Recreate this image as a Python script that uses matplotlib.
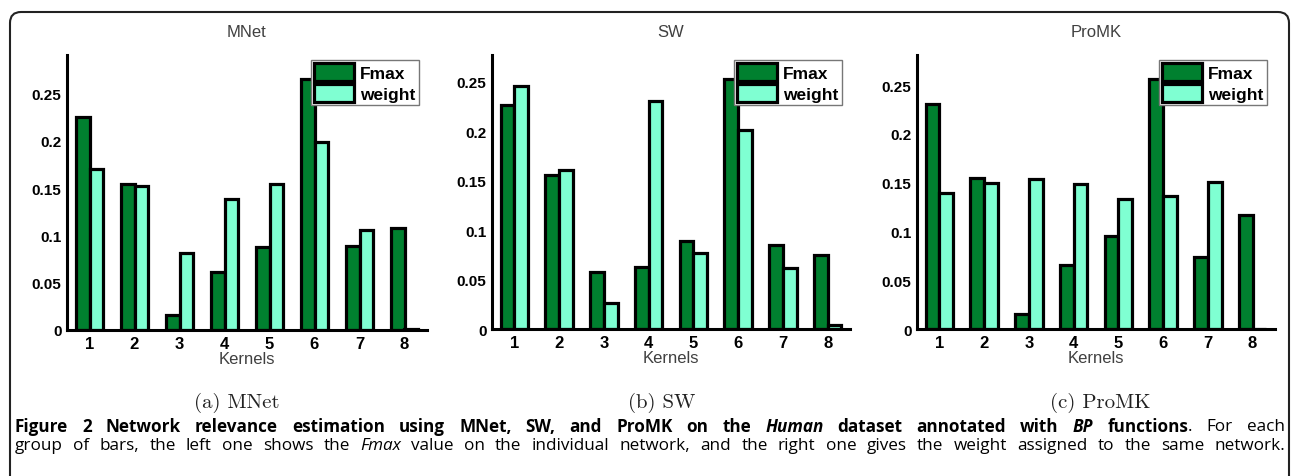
import numpy as np
import matplotlib
matplotlib.use('Agg')
import matplotlib.pyplot as plt
from matplotlib.path import Path
from matplotlib.patches import PathPatch

kernels = [1, 2, 3, 4, 5, 6, 7, 8]
titles = ['MNet', 'SW', 'ProMK']
subcaps = ['(a) MNet', '(b) SW', '(c) ProMK']

mnet_fmax = [0.225, 0.155, 0.016, 0.061, 0.088, 0.266, 0.089, 0.108]
mnet_weight = [0.170, 0.152, 0.082, 0.139, 0.155, 0.199, 0.106, 0.001]
sw_fmax = [0.226, 0.156, 0.058, 0.063, 0.089, 0.253, 0.085, 0.075]
sw_weight = [0.246, 0.161, 0.026, 0.231, 0.077, 0.201, 0.062, 0.004]
promk_fmax = [0.231, 0.155, 0.015, 0.066, 0.095, 0.256, 0.074, 0.117]
promk_weight = [0.139, 0.150, 0.154, 0.149, 0.133, 0.136, 0.151, 0.0]

fmax_all = [mnet_fmax, sw_fmax, promk_fmax]
weight_all = [mnet_weight, sw_weight, promk_weight]
ytops = [0.291, 0.277, 0.281]
yticks = [0, 0.05, 0.1, 0.15, 0.2, 0.25]
yticklabels = ['0', '0.05', '0.1', '0.15', '0.2', '0.25']

W, H = 1292, 477
fig = plt.figure(figsize=(W / 100, H / 100), dpi=100)

# panel boxes in pixels: left, right, top, bottom
boxes = [(67, 427, 56, 331), (492, 850, 56, 330), (917, 1275, 56, 330)]
sub_x = [237, 662, 1100]

dark = '#00802f'
light = '#7fffd2'
bw = 0.31

for i in range(3):
    l, r, t, b = boxes[i]
    ax = fig.add_axes([l / W, (H - b) / H, (r - l) / W, (b - t) / H])
    x = np.array(kernels)
    ax.bar(x - bw / 2, fmax_all[i], bw, color=dark, edgecolor='black', linewidth=2.3, label='Fmax')
    ax.bar(x + bw / 2, weight_all[i], bw, color=light, edgecolor='black', linewidth=2.3, label='weight')
    ax.set_xlim(0.5, 8.5)
    ax.set_ylim(0, ytops[i])
    ax.set_xticks(kernels)
    ax.set_xticklabels([str(k) for k in kernels], fontsize=12, fontweight='bold', family='Liberation Sans')
    ax.set_yticks(yticks)
    ax.set_yticklabels(yticklabels, fontsize=11, fontweight='bold', family='Liberation Sans')
    ax.tick_params(direction='in', length=0, pad=4)
    for s in ['top', 'right']:
        ax.spines[s].set_visible(False)
    for s in ['left', 'bottom']:
        ax.spines[s].set_linewidth(2.2)
    ax.set_title(titles[i], fontsize=12, color='#404040', family='Liberation Sans', pad=14)
    ax.set_xlabel('Kernels', fontsize=12, color='#404040', family='Liberation Sans', labelpad=0)
    leg = ax.legend(loc='upper right', bbox_to_anchor=(1 - 8 / (r - l), 1 - 5 / (b - t)),
                    frameon=True, fancybox=False, edgecolor='#777777', framealpha=1,
                    prop={'family': 'Liberation Sans', 'weight': 'bold', 'size': 12.5},
                    handlelength=2.3, handleheight=1.2, handletextpad=0.35, borderpad=0.2,
                    labelspacing=0.15, borderaxespad=0)
    leg.get_frame().set_linewidth(1)
    fig.text(sub_x[i] / W, 1 - 403 / H, subcaps[i], family='cmr10', fontsize=15,
             ha='center', va='center', color='#222222')

# rounded border open at the bottom
rad = 11
x0, x1, y0 = 10, 1289, 13
verts = [(x0, H), (x0, y0 + rad), (x0, y0), (x0 + rad, y0), (x1 - rad, y0), (x1, y0), (x1, y0 + rad), (x1, H)]
codes = [Path.MOVETO, Path.LINETO, Path.CURVE3, Path.CURVE3, Path.LINETO, Path.CURVE3, Path.CURVE3, Path.LINETO]
verts = [(vx / W, 1 - vy / H) for vx, vy in verts]
fig.patches.append(PathPatch(Path(verts, codes), transform=fig.transFigure, fill=False,
                             edgecolor='#222222', linewidth=1.5))

# caption, justified word by word
line1 = [('Figure', 'bold', 'normal', True), ('2', 'bold', 'normal', True), ('Network', 'bold', 'normal', True),
         ('relevance', 'bold', 'normal', True), ('estimation', 'bold', 'normal', True),
         ('using', 'bold', 'normal', True), ('MNet,', 'bold', 'normal', True), ('SW,', 'bold', 'normal', True),
         ('and', 'bold', 'normal', True), ('ProMK', 'bold', 'normal', True), ('on', 'bold', 'normal', True),
         ('the', 'bold', 'normal', True), ('Human', 'bold', 'italic', True), ('dataset', 'bold', 'normal', True),
         ('annotated', 'bold', 'normal', True), ('with', 'bold', 'normal', True), ('BP', 'bold', 'italic', True),
         ('functions', 'bold', 'normal', True), ('.', 'normal', 'normal', False), ('For', 'normal', 'normal', True),
         ('each', 'normal', 'normal', True)]
line2_words = 'group of bars, the left one shows the'.split()
line2 = [(w, 'normal', 'normal', True) for w in line2_words]
line2.append(('Fmax', 'normal', 'italic', True))
for w in 'value on the individual network, and the right one gives the weight assigned to the same network.'.split():
    line2.append((w, 'normal', 'normal', True))

fig.canvas.draw()
renderer = fig.canvas.get_renderer()
cap_left, cap_right = 15, 1285
cap_size = 12.3


def measure(line, size):
    out = []
    for word, wt, st, sp in line:
        tx = fig.text(0, 0, word, family='Open Sans', fontsize=size, fontweight=wt, fontstyle=st)
        out.append(tx.get_window_extent(renderer).width)
        tx.remove()
    return out


for line, ypix in [(line1, 427), (line2, 446)]:
    widths = measure(line, cap_size)
    ngaps = sum(1 for k, item in enumerate(line) if item[3] and k > 0)
    gap = (cap_right - cap_left - sum(widths)) / ngaps
    xpos = cap_left
    for k, (word, wt, st, sp) in enumerate(line):
        if k > 0 and sp:
            xpos += gap
        fig.text(xpos / W, 1 - ypix / H, word, family='Open Sans', fontsize=cap_size, fontweight=wt,
                 fontstyle=st, ha='left', va='center', color='black')
        xpos += widths[k]

fig.savefig('out.png', dpi=100)
